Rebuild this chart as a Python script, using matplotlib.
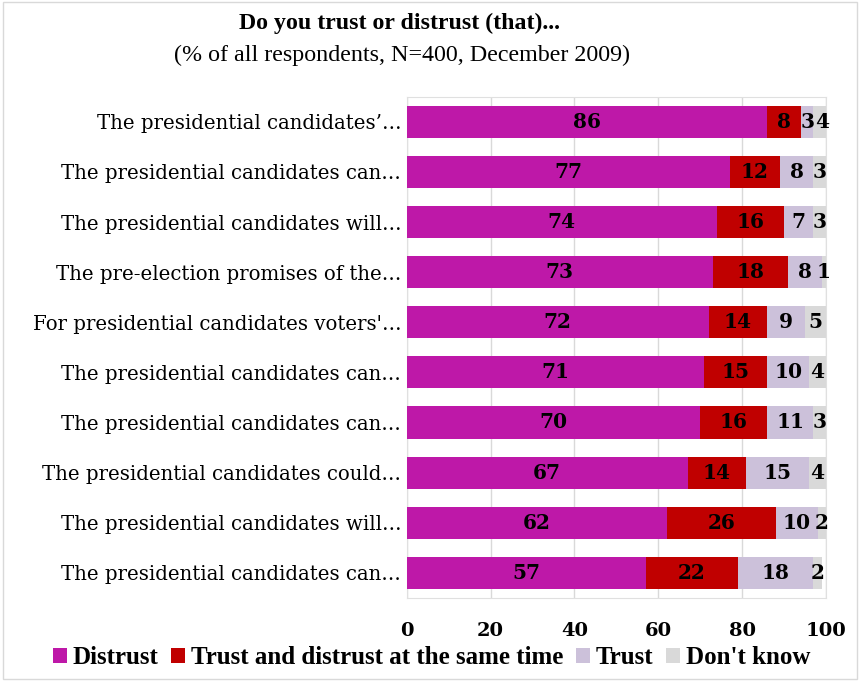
import matplotlib
matplotlib.use("Agg")
from matplotlib import pyplot as plt
import numpy as np

# survey data, top row first
labels = ["The presidential candidates\u2019\u2026",
          "The presidential candidates can\u2026",
          "The presidential candidates will\u2026",
          "The pre-election promises of the\u2026",
          "For presidential candidates voters'\u2026",
          "The presidential candidates can\u2026",
          "The presidential candidates can\u2026",
          "The presidential candidates could\u2026",
          "The presidential candidates will\u2026",
          "The presidential candidates can\u2026"]
distrust = [86, 77, 74, 73, 72, 71, 70, 67, 62, 57]
both = [8, 12, 16, 18, 14, 15, 16, 14, 26, 22]
trust = [3, 8, 7, 8, 9, 10, 11, 15, 10, 18]
dont_know = [4, 3, 3, 1, 5, 4, 3, 4, 2, 2]

series = [("Distrust", distrust, "#BE18A8"),
          ("Trust and distrust at the same time", both, "#C00000"),
          ("Trust", trust, "#CCC1DA"),
          ("Don't know", dont_know, "#D9D9D9")]

plt.rcParams['font.family'] = ['DejaVu Serif']

fig = plt.figure(figsize=(8.6, 6.81), dpi=100)
ax = fig.add_axes([0.473, 0.122, 0.4875, 0.736])

y = np.arange(len(labels))
left = np.zeros(len(labels))
for name, vals, col in series:
    vals = np.array(vals, dtype=float)
    ax.barh(y, vals, left=left, height=0.64, color=col, label=name, zorder=3)
    for yi, l, v in zip(y, left, vals):
        ax.text(l + v / 2, yi, str(int(v)), ha='center', va='center',
                fontsize=14.5, fontweight='bold', color='black', zorder=4)
    left += vals

ax.set_ylim(len(labels) - 0.5, -0.5)
ax.set_xlim(0, 100)
ax.set_yticks(y)
ax.set_yticklabels(labels, fontsize=14.2)
ax.set_xticks([0, 20, 40, 60, 80, 100])
ax.tick_params(axis='x', labelsize=14, length=0, pad=17)
ax.tick_params(axis='y', length=0, pad=4)
for t in ax.get_xticklabels():
    t.set_fontweight('bold')
ax.grid(axis='x', color='#D9D9D9', linewidth=1, zorder=0)
for s in ax.spines.values():
    s.set_color('#E0E0E0')

cond = ['Liberation Serif']
fig.text(0.465, 0.965, "Do you trust or distrust (that)...", ha='center', va='center',
         fontsize=17.2, fontweight='bold', family=cond)
fig.text(0.467, 0.918, "(% of all respondents, N=400, December 2009)", ha='center',
         va='center', fontsize=17.3, family=cond)

fig.legend(loc='center', bbox_to_anchor=(0.502, 0.034), ncol=4, frameon=False,
           prop={'weight': 'bold', 'size': 18, 'family': cond}, handlelength=0.55,
           handleheight=0.55, handletextpad=0.25, columnspacing=0.5)

fig.patches.append(plt.Rectangle((0.003, 0.003), 0.994, 0.994, transform=fig.transFigure,
                                 fill=False, edgecolor='#D9D9D9', linewidth=1))

fig.savefig("out.png", dpi=100)
